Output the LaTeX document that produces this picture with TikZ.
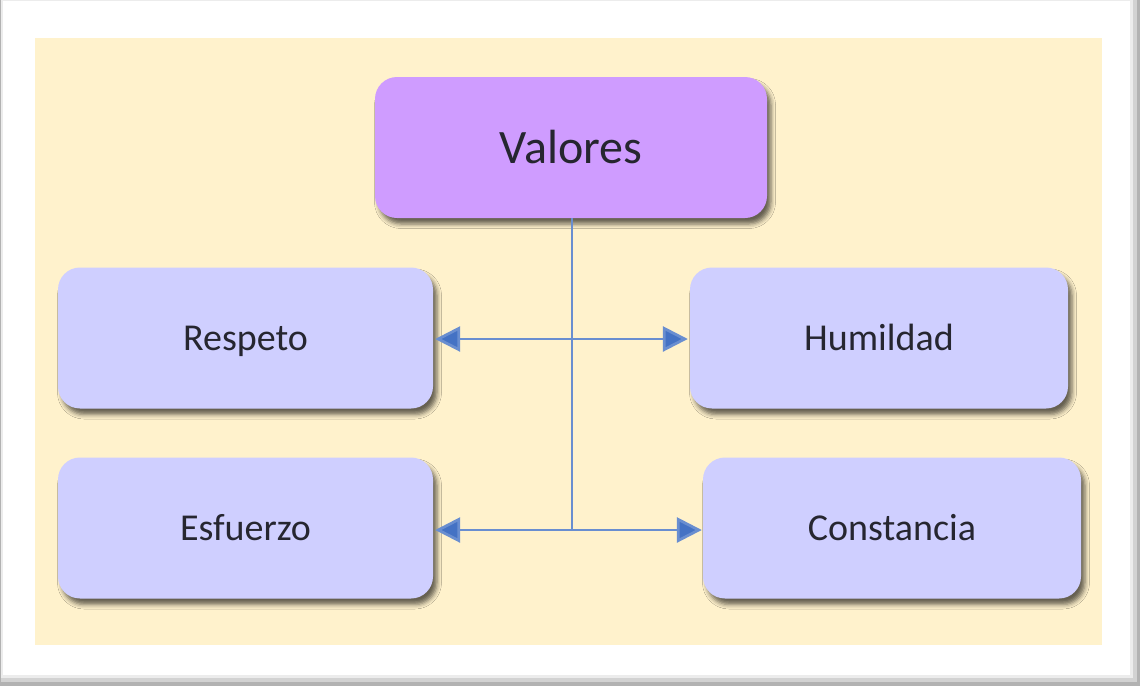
\documentclass[tikz,border=0pt]{standalone}
\usepackage{fontspec}
\setmainfont{Carlito}
\usetikzlibrary{arrows.meta,shadows.blur}
\definecolor{cream}{HTML}{FFF2CC}
\definecolor{purplebox}{HTML}{CF9CFF}
\definecolor{lilacbox}{HTML}{CFCFFF}
\definecolor{linkblue}{HTML}{4472C4}
\definecolor{txt}{HTML}{262630}
\tikzset{
  boxshadow/.style={blur shadow={shadow xshift=4pt, shadow yshift=-6pt, shadow blur radius=4.5pt, shadow opacity=60}},
  rootbox/.style={fill=purplebox, rounded corners=22pt, minimum width=392pt, minimum height=141pt,
    inner sep=0pt, text=txt, font=\fontsize{48}{56}\selectfont, text height=31pt, text depth=0pt, boxshadow},
  leafbox/.style={fill=lilacbox, rounded corners=22pt, minimum width=376pt, minimum height=141pt,
    inner sep=0pt, text=txt, font=\fontsize{38}{45}\selectfont, text height=24.5pt, text depth=0pt, boxshadow},
  link/.style={draw=linkblue!80!white, line width=2.8pt},
  tip/.style={-{Triangle[length=25pt,width=25pt,fill=linkblue]}},
}
\begin{document}
\begin{tikzpicture}[x=1pt,y=-1pt]
\useasboundingbox (0,0) rectangle (1140,686);
% outer frame with shadowed edges
\fill[gray!60] (0,0) rectangle (1140,686);
\fill[gray!35] (0.5,0) rectangle (1137,682);
\fill[gray!15] (1,0) rectangle (1133,678);
\fill[white] (3,1) rectangle (1130,675);
% cream panel
\fill[cream] (35,38) rectangle (1102,645);
% nodes
\node[rootbox] (valores) at (571,147.5) {Valores};
\node[leafbox, minimum width=375pt] (respeto) at (245.5,338) {Respeto};
\node[leafbox, minimum width=378pt] (humildad) at (879,338) {Humildad};
\node[leafbox, minimum width=375pt] (esfuerzo) at (245.5,528) {Esfuerzo};
\node[leafbox, minimum width=378pt] (constancia) at (892,528) {Constancia};
% connectors
\coordinate (j1) at (572,339);
\coordinate (j2) at (572,530);
\draw[link] (valores.south -| j1) -- (j2);
\draw[link, tip] (j1) -- ([xshift=2pt]j1 -| respeto.east);
\draw[link, tip] (j1) -- ([xshift=-2pt]j1 -| humildad.west);
\draw[link, tip] (j2) -- ([xshift=2pt]j2 -| esfuerzo.east);
\draw[link, tip] (j2) -- ([xshift=-1pt]j2 -| constancia.west);
\end{tikzpicture}
\end{document}
